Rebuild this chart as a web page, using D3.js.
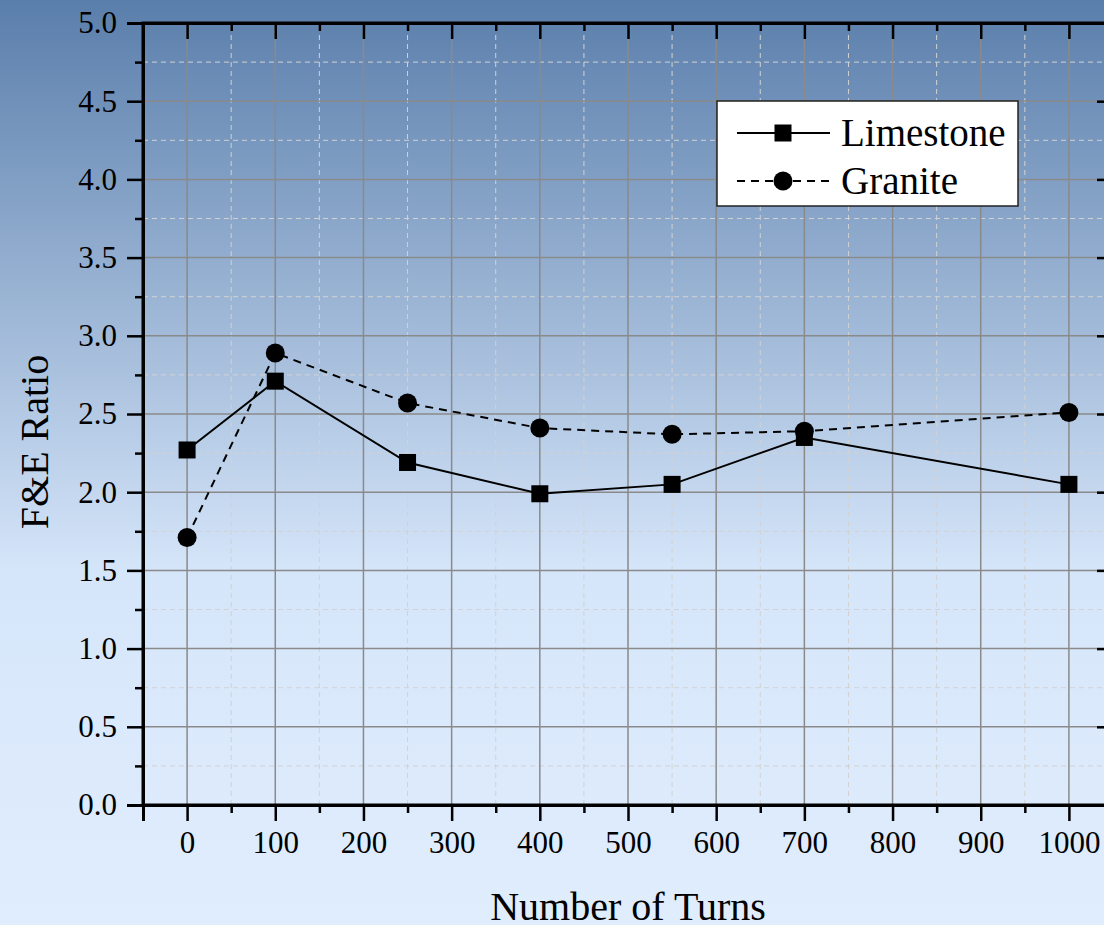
<!DOCTYPE html>
<html>
<head>
<meta charset="utf-8">
<script src="https://cdn.jsdelivr.net/npm/d3@7"></script>
<style>
html,body{margin:0;padding:0;overflow:hidden;}
svg{display:block;}
svg text{font-family:"Liberation Serif","Times New Roman",serif !important;fill:#000;}
</style>
</head>
<body>
<svg id="chart" width="1104" height="925"></svg>
<script>
const turns = [0, 100, 250, 400, 550, 700, 1000];
const limestone = [2.27, 2.71, 2.19, 1.99, 2.05, 2.35, 2.05];
const granite = [1.71, 2.89, 2.57, 2.41, 2.37, 2.39, 2.51];
const xTicks = [0, 100, 200, 300, 400, 500, 600, 700, 800, 900, 1000];
const yTicks = [0, 0.5, 1.0, 1.5, 2.0, 2.5, 3.0, 3.5, 4.0, 4.5, 5.0];
const seriesNames = ["Limestone", "Granite"];

const SERIF = '"Liberation Serif", "Times New Roman", serif';
const svg = d3.select("#chart");
const W = 1104, H = 925;

// background gradient
const defs = svg.append("defs");
const grad = defs.append("linearGradient").attr("id","bg").attr("x1",0).attr("y1",0).attr("x2",0).attr("y2",1);
grad.append("stop").attr("offset","0").attr("stop-color","#5a7eab");
grad.append("stop").attr("offset","0.62").attr("stop-color","#d6e6fa");
grad.append("stop").attr("offset","1").attr("stop-color","#e0edfd");
svg.append("rect").attr("width",W).attr("height",H).attr("fill","url(#bg)");

const x = d3.scaleLinear().domain([-50, 1050]).range([143, 1113]);
const y = d3.scaleLinear().domain([0, 5]).range([805, 23]);

// minor grid
const xMinor = d3.range(50, 1001, 100);
const yMinor = d3.range(0.25, 5, 0.5);
const g = svg.append("g");
g.selectAll(".xmin").data(xMinor).join("line")
  .attr("x1", d=>x(d)).attr("x2", d=>x(d)).attr("y1", y(0)).attr("y2", y(5))
  .attr("stroke","#d2d2d2").attr("stroke-width",1).attr("stroke-dasharray","5,4");
g.selectAll(".ymin").data(yMinor).join("line")
  .attr("x1", x(-50)).attr("x2", x(1050)).attr("y1", d=>y(d)).attr("y2", d=>y(d))
  .attr("stroke","#d2d2d2").attr("stroke-width",1).attr("stroke-dasharray","5,4");
// major grid
g.selectAll(".xmaj").data(xTicks).join("line")
  .attr("x1", d=>x(d)).attr("x2", d=>x(d)).attr("y1", y(0)).attr("y2", y(5))
  .attr("stroke","#8a8a8a").attr("stroke-width",1.5);
g.selectAll(".ymaj").data(yTicks.slice(1,-1)).join("line")
  .attr("x1", x(-50)).attr("x2", x(1050)).attr("y1", d=>y(d)).attr("y2", d=>y(d))
  .attr("stroke","#8a8a8a").attr("stroke-width",1.5);

// series lines
const line = d3.line().x((d,i)=>x(turns[i])).y(d=>y(d));
svg.append("path").datum(limestone).attr("d", line).attr("fill","none")
  .attr("stroke","#000").attr("stroke-width",2);
svg.append("path").datum(granite).attr("d", line).attr("fill","none")
  .attr("stroke","#000").attr("stroke-width",2).attr("stroke-dasharray","8,6");

// markers
const sq = 17;
svg.selectAll(".sq").data(limestone).join("rect")
  .attr("x",(d,i)=>x(turns[i])-sq/2).attr("y",d=>y(d)-sq/2)
  .attr("width",sq).attr("height",sq).attr("fill","#000");
svg.selectAll(".ci").data(granite).join("circle")
  .attr("cx",(d,i)=>x(turns[i])).attr("cy",d=>y(d)).attr("r",9.5).attr("fill","#000");

// axes
const fs = 31;
const axB = svg.append("g").attr("transform",`translate(0,${y(0)})`)
  .call(d3.axisBottom(x).tickValues(xTicks).tickSize(16).tickPadding(10).tickFormat(d3.format("d")));
const axBm = svg.append("g").attr("transform",`translate(0,${y(0)})`)
  .call(d3.axisBottom(x).tickValues([-50].concat(xMinor)).tickSize(8).tickFormat(""));
const axT = svg.append("g").attr("transform",`translate(0,${y(5)})`)
  .call(d3.axisBottom(x).tickValues(xTicks).tickSize(16).tickFormat(""));
const axTm = svg.append("g").attr("transform",`translate(0,${y(5)})`)
  .call(d3.axisBottom(x).tickValues(xMinor).tickSize(8).tickFormat(""));
const axL = svg.append("g").attr("transform",`translate(${x(-50)},0)`)
  .call(d3.axisLeft(y).tickValues(yTicks).tickSize(16).tickPadding(10).tickFormat(d3.format(".1f")));
const axLm = svg.append("g").attr("transform",`translate(${x(-50)},0)`)
  .call(d3.axisLeft(y).tickValues(yMinor).tickSize(8).tickFormat(""));
const axR = svg.append("g").attr("transform",`translate(${x(1050)},0)`)
  .call(d3.axisLeft(y).tickValues(yTicks).tickSize(16).tickFormat(""));
const axRm = svg.append("g").attr("transform",`translate(${x(1050)},0)`)
  .call(d3.axisLeft(y).tickValues(yMinor).tickSize(8).tickFormat(""));
[axB,axBm,axT,axTm,axL,axLm,axR,axRm].forEach(a=>{
  a.attr("font-family", SERIF).attr("font-size", fs);
  a.select(".domain").attr("stroke","#000").attr("stroke-width",3);
  a.selectAll(".tick line").attr("stroke","#000").attr("stroke-width",2.5);
  a.selectAll("text").style("font-family", SERIF).style("font-size", fs+"px").attr("fill","#000");
});
svg.append("rect").attr("x",x(-50)).attr("y",y(5)).attr("width",x(1050)-x(-50)).attr("height",y(0)-y(5))
  .attr("fill","none").attr("stroke","#000").attr("stroke-width",3);

// axis titles
svg.append("text").attr("x",628).attr("y",920).attr("text-anchor","middle")
  .style("font-family", SERIF).style("font-size","40px").text("Number of Turns");
svg.append("text").attr("transform","translate(48,442) rotate(-90)").attr("text-anchor","middle")
  .style("font-family", SERIF).style("font-size","40px").text("F&E Ratio");

// legend
const lg = svg.append("g");
lg.append("rect").attr("x",717).attr("y",101).attr("width",301).attr("height",105)
  .attr("fill","#fff").attr("stroke","#222").attr("stroke-width",1.5);
const ly = [133, 181];
seriesNames.forEach((name,i)=>{
  lg.append("line").attr("x1",737).attr("x2",830).attr("y1",ly[i]).attr("y2",ly[i])
    .attr("stroke","#000").attr("stroke-width",2).attr("stroke-dasharray", i===1 ? "8,6" : null);
  if(i===0){
    lg.append("rect").attr("x",783-sq/2).attr("y",ly[i]-sq/2).attr("width",sq).attr("height",sq).attr("fill","#000");
  } else {
    lg.append("circle").attr("cx",783).attr("cy",ly[i]).attr("r",9.5).attr("fill","#000");
  }
  lg.append("text").attr("x",841).attr("y",ly[i]+13).style("font-family", SERIF).style("font-size","39px").text(name);
});
</script>
</body>
</html>
